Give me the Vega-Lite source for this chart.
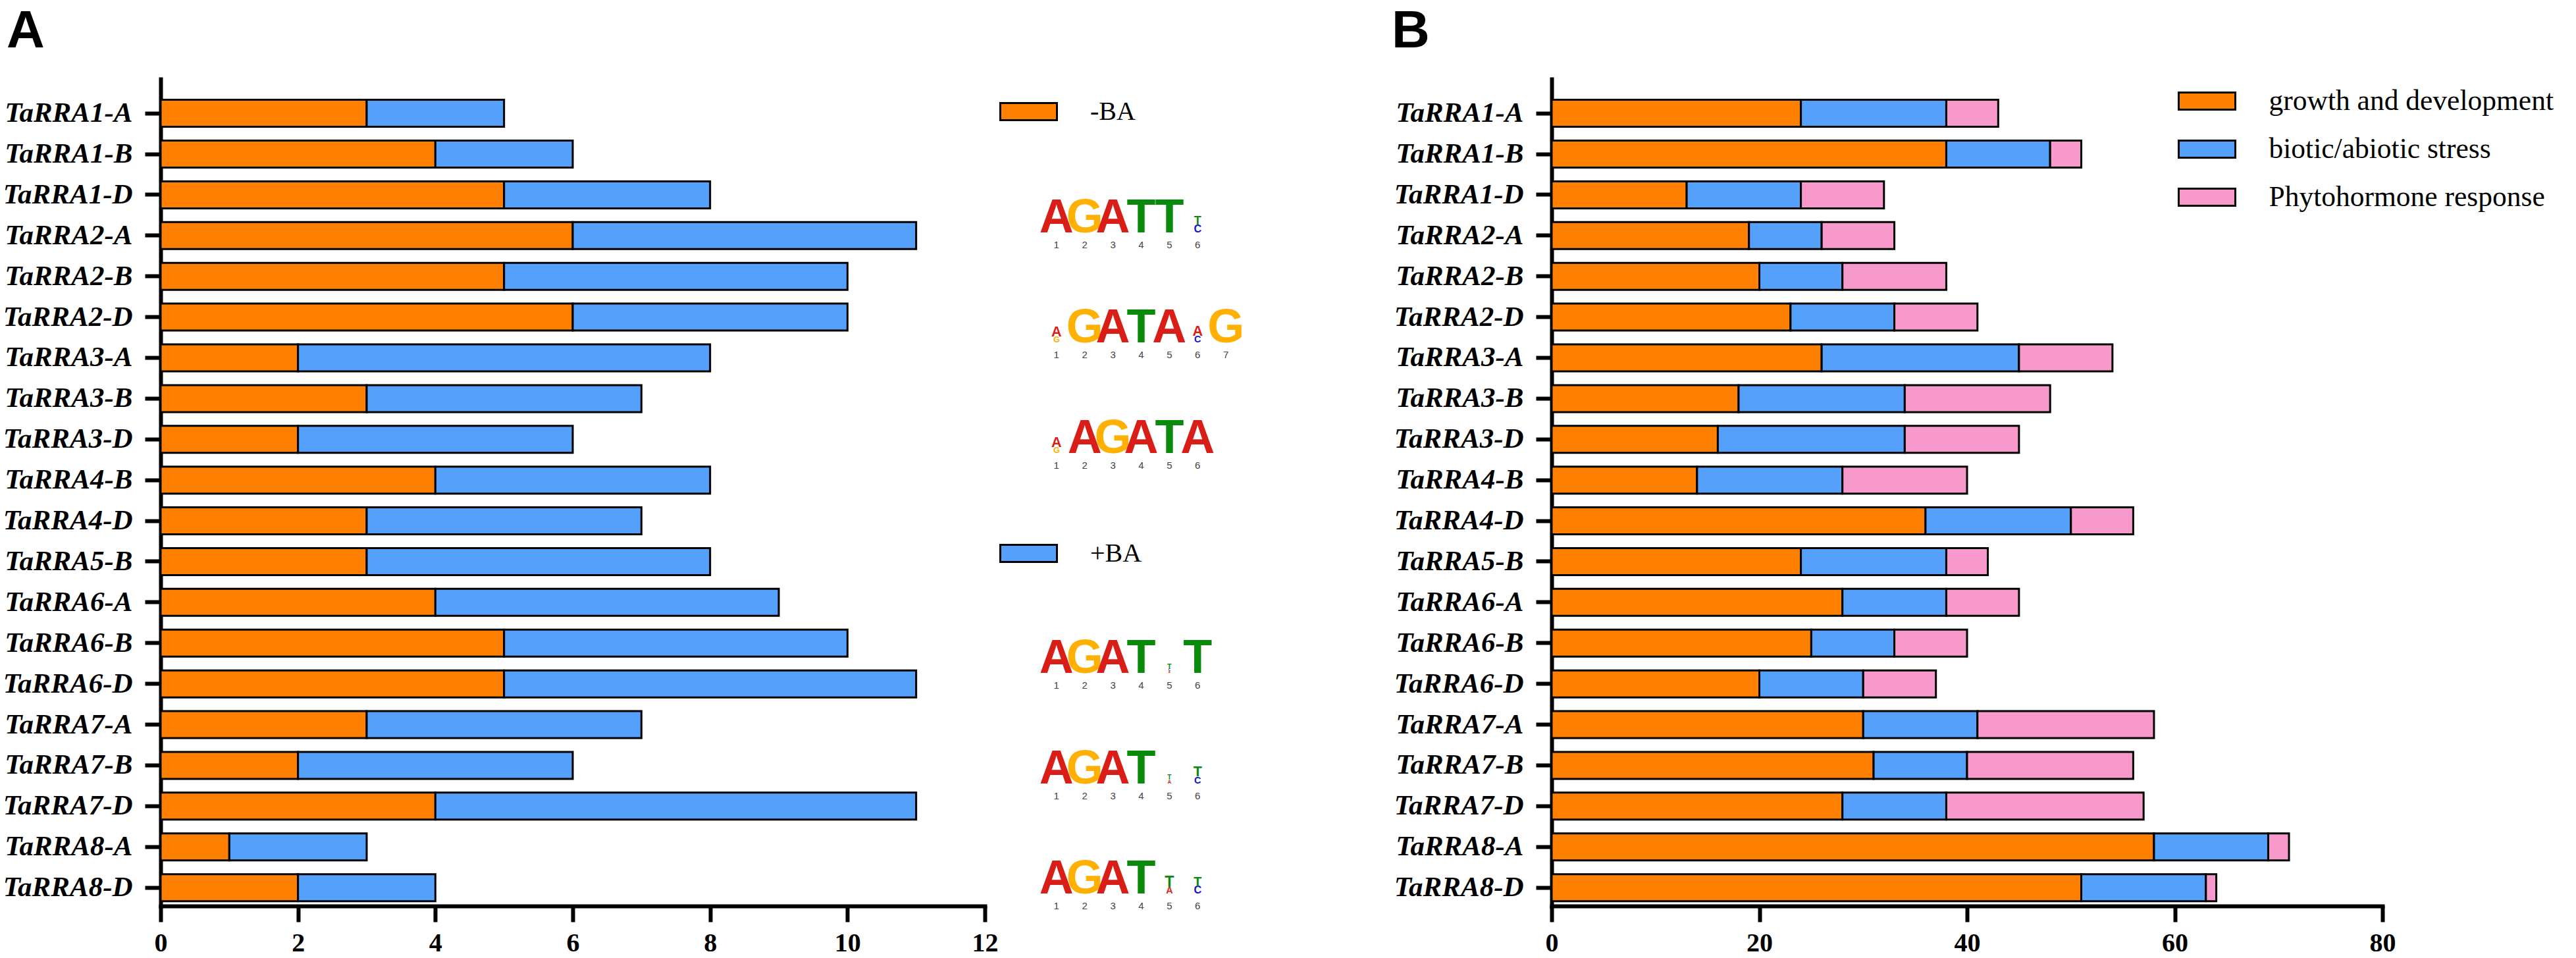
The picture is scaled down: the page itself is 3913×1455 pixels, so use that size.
{
  "$schema": "https://vega.github.io/schema/vega-lite/v6.json",
  "padding": {"left": 4, "top": 8, "right": 0, "bottom": 0},
  "background": "white",
  "datasets": {
    "panelA": [
      {"gene": "TaRRA1-A", "trt": "-BA", "n": 3}, {"gene": "TaRRA1-A", "trt": "+BA", "n": 2},
      {"gene": "TaRRA1-B", "trt": "-BA", "n": 4}, {"gene": "TaRRA1-B", "trt": "+BA", "n": 2},
      {"gene": "TaRRA1-D", "trt": "-BA", "n": 5}, {"gene": "TaRRA1-D", "trt": "+BA", "n": 3},
      {"gene": "TaRRA2-A", "trt": "-BA", "n": 6}, {"gene": "TaRRA2-A", "trt": "+BA", "n": 5},
      {"gene": "TaRRA2-B", "trt": "-BA", "n": 5}, {"gene": "TaRRA2-B", "trt": "+BA", "n": 5},
      {"gene": "TaRRA2-D", "trt": "-BA", "n": 6}, {"gene": "TaRRA2-D", "trt": "+BA", "n": 4},
      {"gene": "TaRRA3-A", "trt": "-BA", "n": 2}, {"gene": "TaRRA3-A", "trt": "+BA", "n": 6},
      {"gene": "TaRRA3-B", "trt": "-BA", "n": 3}, {"gene": "TaRRA3-B", "trt": "+BA", "n": 4},
      {"gene": "TaRRA3-D", "trt": "-BA", "n": 2}, {"gene": "TaRRA3-D", "trt": "+BA", "n": 4},
      {"gene": "TaRRA4-B", "trt": "-BA", "n": 4}, {"gene": "TaRRA4-B", "trt": "+BA", "n": 4},
      {"gene": "TaRRA4-D", "trt": "-BA", "n": 3}, {"gene": "TaRRA4-D", "trt": "+BA", "n": 4},
      {"gene": "TaRRA5-B", "trt": "-BA", "n": 3}, {"gene": "TaRRA5-B", "trt": "+BA", "n": 5},
      {"gene": "TaRRA6-A", "trt": "-BA", "n": 4}, {"gene": "TaRRA6-A", "trt": "+BA", "n": 5},
      {"gene": "TaRRA6-B", "trt": "-BA", "n": 5}, {"gene": "TaRRA6-B", "trt": "+BA", "n": 5},
      {"gene": "TaRRA6-D", "trt": "-BA", "n": 5}, {"gene": "TaRRA6-D", "trt": "+BA", "n": 6},
      {"gene": "TaRRA7-A", "trt": "-BA", "n": 3}, {"gene": "TaRRA7-A", "trt": "+BA", "n": 4},
      {"gene": "TaRRA7-B", "trt": "-BA", "n": 2}, {"gene": "TaRRA7-B", "trt": "+BA", "n": 4},
      {"gene": "TaRRA7-D", "trt": "-BA", "n": 4}, {"gene": "TaRRA7-D", "trt": "+BA", "n": 7},
      {"gene": "TaRRA8-A", "trt": "-BA", "n": 1}, {"gene": "TaRRA8-A", "trt": "+BA", "n": 2},
      {"gene": "TaRRA8-D", "trt": "-BA", "n": 2}, {"gene": "TaRRA8-D", "trt": "+BA", "n": 2}
    ],
    "panelB": [
      {"gene": "TaRRA1-A", "cat": "growth and development", "n": 24}, {"gene": "TaRRA1-A", "cat": "biotic/abiotic stress", "n": 14}, {"gene": "TaRRA1-A", "cat": "Phytohormone response", "n": 5},
      {"gene": "TaRRA1-B", "cat": "growth and development", "n": 38}, {"gene": "TaRRA1-B", "cat": "biotic/abiotic stress", "n": 10}, {"gene": "TaRRA1-B", "cat": "Phytohormone response", "n": 3},
      {"gene": "TaRRA1-D", "cat": "growth and development", "n": 13}, {"gene": "TaRRA1-D", "cat": "biotic/abiotic stress", "n": 11}, {"gene": "TaRRA1-D", "cat": "Phytohormone response", "n": 8},
      {"gene": "TaRRA2-A", "cat": "growth and development", "n": 19}, {"gene": "TaRRA2-A", "cat": "biotic/abiotic stress", "n": 7}, {"gene": "TaRRA2-A", "cat": "Phytohormone response", "n": 7},
      {"gene": "TaRRA2-B", "cat": "growth and development", "n": 20}, {"gene": "TaRRA2-B", "cat": "biotic/abiotic stress", "n": 8}, {"gene": "TaRRA2-B", "cat": "Phytohormone response", "n": 10},
      {"gene": "TaRRA2-D", "cat": "growth and development", "n": 23}, {"gene": "TaRRA2-D", "cat": "biotic/abiotic stress", "n": 10}, {"gene": "TaRRA2-D", "cat": "Phytohormone response", "n": 8},
      {"gene": "TaRRA3-A", "cat": "growth and development", "n": 26}, {"gene": "TaRRA3-A", "cat": "biotic/abiotic stress", "n": 19}, {"gene": "TaRRA3-A", "cat": "Phytohormone response", "n": 9},
      {"gene": "TaRRA3-B", "cat": "growth and development", "n": 18}, {"gene": "TaRRA3-B", "cat": "biotic/abiotic stress", "n": 16}, {"gene": "TaRRA3-B", "cat": "Phytohormone response", "n": 14},
      {"gene": "TaRRA3-D", "cat": "growth and development", "n": 16}, {"gene": "TaRRA3-D", "cat": "biotic/abiotic stress", "n": 18}, {"gene": "TaRRA3-D", "cat": "Phytohormone response", "n": 11},
      {"gene": "TaRRA4-B", "cat": "growth and development", "n": 14}, {"gene": "TaRRA4-B", "cat": "biotic/abiotic stress", "n": 14}, {"gene": "TaRRA4-B", "cat": "Phytohormone response", "n": 12},
      {"gene": "TaRRA4-D", "cat": "growth and development", "n": 36}, {"gene": "TaRRA4-D", "cat": "biotic/abiotic stress", "n": 14}, {"gene": "TaRRA4-D", "cat": "Phytohormone response", "n": 6},
      {"gene": "TaRRA5-B", "cat": "growth and development", "n": 24}, {"gene": "TaRRA5-B", "cat": "biotic/abiotic stress", "n": 14}, {"gene": "TaRRA5-B", "cat": "Phytohormone response", "n": 4},
      {"gene": "TaRRA6-A", "cat": "growth and development", "n": 28}, {"gene": "TaRRA6-A", "cat": "biotic/abiotic stress", "n": 10}, {"gene": "TaRRA6-A", "cat": "Phytohormone response", "n": 7},
      {"gene": "TaRRA6-B", "cat": "growth and development", "n": 25}, {"gene": "TaRRA6-B", "cat": "biotic/abiotic stress", "n": 8}, {"gene": "TaRRA6-B", "cat": "Phytohormone response", "n": 7},
      {"gene": "TaRRA6-D", "cat": "growth and development", "n": 20}, {"gene": "TaRRA6-D", "cat": "biotic/abiotic stress", "n": 10}, {"gene": "TaRRA6-D", "cat": "Phytohormone response", "n": 7},
      {"gene": "TaRRA7-A", "cat": "growth and development", "n": 30}, {"gene": "TaRRA7-A", "cat": "biotic/abiotic stress", "n": 11}, {"gene": "TaRRA7-A", "cat": "Phytohormone response", "n": 17},
      {"gene": "TaRRA7-B", "cat": "growth and development", "n": 31}, {"gene": "TaRRA7-B", "cat": "biotic/abiotic stress", "n": 9}, {"gene": "TaRRA7-B", "cat": "Phytohormone response", "n": 16},
      {"gene": "TaRRA7-D", "cat": "growth and development", "n": 28}, {"gene": "TaRRA7-D", "cat": "biotic/abiotic stress", "n": 10}, {"gene": "TaRRA7-D", "cat": "Phytohormone response", "n": 19},
      {"gene": "TaRRA8-A", "cat": "growth and development", "n": 58}, {"gene": "TaRRA8-A", "cat": "biotic/abiotic stress", "n": 11}, {"gene": "TaRRA8-A", "cat": "Phytohormone response", "n": 2},
      {"gene": "TaRRA8-D", "cat": "growth and development", "n": 51}, {"gene": "TaRRA8-D", "cat": "biotic/abiotic stress", "n": 12}, {"gene": "TaRRA8-D", "cat": "Phytohormone response", "n": 1}
    ],
    "letters": [
      {"row": 1, "pos": 1, "L": "A", "h": 2, "base": 0}, {"row": 1, "pos": 2, "L": "G", "h": 2, "base": 0},
      {"row": 1, "pos": 3, "L": "A", "h": 2, "base": 0}, {"row": 1, "pos": 4, "L": "T", "h": 2, "base": 0},
      {"row": 1, "pos": 5, "L": "T", "h": 2, "base": 0}, {"row": 1, "pos": 6, "L": "C", "h": 0.45, "base": 0},
      {"row": 1, "pos": 6, "L": "T", "h": 0.5, "base": 0.45},
      {"row": 2, "pos": 1, "L": "G", "h": 0.35, "base": 0}, {"row": 2, "pos": 1, "L": "A", "h": 0.6, "base": 0.35},
      {"row": 2, "pos": 2, "L": "G", "h": 2, "base": 0}, {"row": 2, "pos": 3, "L": "A", "h": 2, "base": 0},
      {"row": 2, "pos": 4, "L": "T", "h": 2, "base": 0}, {"row": 2, "pos": 5, "L": "A", "h": 2, "base": 0},
      {"row": 2, "pos": 6, "L": "C", "h": 0.4, "base": 0}, {"row": 2, "pos": 6, "L": "A", "h": 0.6, "base": 0.4},
      {"row": 2, "pos": 7, "L": "G", "h": 2, "base": 0},
      {"row": 3, "pos": 1, "L": "G", "h": 0.35, "base": 0}, {"row": 3, "pos": 1, "L": "A", "h": 0.6, "base": 0.35},
      {"row": 3, "pos": 2, "L": "A", "h": 2, "base": 0}, {"row": 3, "pos": 3, "L": "G", "h": 2, "base": 0},
      {"row": 3, "pos": 4, "L": "A", "h": 2, "base": 0}, {"row": 3, "pos": 5, "L": "T", "h": 2, "base": 0},
      {"row": 3, "pos": 6, "L": "A", "h": 2, "base": 0},
      {"row": 5, "pos": 1, "L": "A", "h": 2, "base": 0}, {"row": 5, "pos": 2, "L": "G", "h": 2, "base": 0},
      {"row": 5, "pos": 3, "L": "A", "h": 2, "base": 0}, {"row": 5, "pos": 4, "L": "T", "h": 2, "base": 0},
      {"row": 5, "pos": 5, "L": "A", "h": 0.12, "base": 0}, {"row": 5, "pos": 5, "L": "C", "h": 0.13, "base": 0.12},
      {"row": 5, "pos": 5, "L": "T", "h": 0.3, "base": 0.25}, {"row": 5, "pos": 6, "L": "T", "h": 2, "base": 0},
      {"row": 6, "pos": 1, "L": "A", "h": 2, "base": 0}, {"row": 6, "pos": 2, "L": "G", "h": 2, "base": 0},
      {"row": 6, "pos": 3, "L": "A", "h": 2, "base": 0}, {"row": 6, "pos": 4, "L": "T", "h": 2, "base": 0},
      {"row": 6, "pos": 5, "L": "A", "h": 0.22, "base": 0}, {"row": 6, "pos": 5, "L": "T", "h": 0.28, "base": 0.22},
      {"row": 6, "pos": 6, "L": "C", "h": 0.4, "base": 0}, {"row": 6, "pos": 6, "L": "T", "h": 0.6, "base": 0.4},
      {"row": 7, "pos": 1, "L": "A", "h": 2, "base": 0}, {"row": 7, "pos": 2, "L": "G", "h": 2, "base": 0},
      {"row": 7, "pos": 3, "L": "A", "h": 2, "base": 0}, {"row": 7, "pos": 4, "L": "T", "h": 2, "base": 0},
      {"row": 7, "pos": 5, "L": "A", "h": 0.4, "base": 0}, {"row": 7, "pos": 5, "L": "T", "h": 0.65, "base": 0.4},
      {"row": 7, "pos": 6, "L": "C", "h": 0.45, "base": 0}, {"row": 7, "pos": 6, "L": "T", "h": 0.55, "base": 0.45}
    ],
    "logoAxis": [
      {"row": 1, "v": 0}, {"row": 1, "v": 1}, {"row": 1, "v": 2},
      {"row": 2, "v": 0}, {"row": 2, "v": 1}, {"row": 2, "v": 2},
      {"row": 3, "v": 0}, {"row": 3, "v": 1}, {"row": 3, "v": 2},
      {"row": 5, "v": 0}, {"row": 5, "v": 1}, {"row": 5, "v": 2},
      {"row": 6, "v": 0}, {"row": 6, "v": 1}, {"row": 6, "v": 2},
      {"row": 7, "v": 0}, {"row": 7, "v": 1}, {"row": 7, "v": 2}
    ]
  },
  "bounds": "flush",
  "spacing": 23,
  "hconcat": [
    {
      "width": 1252,
      "height": 1256,
      "title": {"text": "A", "dx": -234},
      "data": {"name": "panelA"},
      "mark": {"type": "bar", "stroke": "black", "strokeWidth": 3, "height": 41},
      "encoding": {
        "y": {
          "field": "gene", "type": "nominal", "sort": null,
          "scale": {"type": "band", "paddingInner": 0.34, "paddingOuter": 0.316, "align": 0.81}
        },
        "x": {
          "field": "n", "type": "quantitative",
          "scale": {"domain": [0, 12], "nice": false},
          "axis": {"values": [0, 2, 4, 6, 8, 10, 12]}
        },
        "order": {"field": "trt", "sort": "descending"},
        "color": {
          "field": "trt", "type": "nominal",
          "scale": {"domain": ["-BA", "+BA"], "range": ["#FF8000", "#55A0FA"]},
          "legend": {
            "orient": "none", "legendX": 1295.5, "legendY": 26.5, "title": null,
            "rowPadding": 628, "labelFontSize": 40, "labelOffset": 70.5
          }
        }
      }
    },
    {
      "width": 815,
      "height": 1256,
      "encoding": {
        "x": {"field": "pos", "type": "quantitative", "scale": {"domain": [-1, 18], "nice": false, "zero": false}, "axis": null},
        "y": {"field": "row", "type": "ordinal", "scale": {"type": "point", "domain": [0, 1, 2, 3, 4, 5, 6, 7], "padding": 0.2515, "align": 0.777}, "axis": null}
      },
      "layer": [
        {
          "data": {"name": "letters"},
          "mark": {"type": "text", "font": "Liberation Sans", "fontWeight": "bold", "baseline": "alphabetic", "align": "center"},
          "encoding": {
            "yOffset": {"field": "base", "type": "quantitative", "scale": {"domain": [0, 2], "range": [0, -52]}},
            "size": {"field": "h", "type": "quantitative", "scale": {"domain": [0, 2], "range": [0, 72]}, "legend": null},
            "color": {"field": "L", "type": "nominal", "scale": {"domain": ["A", "C", "G", "T"], "range": ["#D91E18", "#1414C8", "#FFB000", "#0A8A0A"]}, "legend": null},
            "text": {"field": "L"}
          }
        },
        {
          "data": {"name": "letters"},
          "transform": [{"filter": "datum.base == 0"}],
          "mark": {"type": "text", "fontSize": 15, "font": "Liberation Sans", "color": "#444444", "baseline": "top", "dy": 12},
          "encoding": {"text": {"field": "pos"}}
        },
        {
          "data": {"name": "logoAxis"},
          "mark": {"type": "text", "fontSize": 16, "font": "Liberation Sans", "color": "#444444", "baseline": "middle", "align": "center"},
          "encoding": {
            "x": {"datum": 0, "type": "quantitative"},
            "yOffset": {"field": "v", "type": "quantitative", "scale": {"domain": [0, 2], "range": [0, -52]}},
            "text": {"field": "v", "type": "quantitative"}
          }
        },
        {
          "data": {"name": "logoAxis"},
          "mark": {"type": "tick", "orient": "horizontal", "size": 9, "thickness": 2, "color": "#444444"},
          "encoding": {
            "x": {"datum": 0.3, "type": "quantitative"},
            "yOffset": {"field": "v", "type": "quantitative", "scale": {"domain": [0, 2], "range": [0, -52]}}
          }
        },
        {
          "data": {"name": "logoAxis"},
          "transform": [{"filter": "datum.v == 1"}],
          "mark": {"type": "tick", "orient": "vertical", "size": 52, "thickness": 2, "color": "#444444"},
          "encoding": {
            "x": {"datum": 0.4, "type": "quantitative"},
            "yOffset": {"field": "v", "type": "quantitative", "scale": {"domain": [0, 2], "range": [0, -52]}}
          }
        },
        {
          "data": {"name": "logoAxis"},
          "transform": [{"filter": "datum.v == 1"}],
          "mark": {"type": "text", "text": "Bits", "fontSize": 14, "font": "Liberation Sans", "color": "#444444", "angle": 270, "baseline": "middle", "align": "center"},
          "encoding": {
            "x": {"datum": -0.55, "type": "quantitative"},
            "yOffset": {"field": "v", "type": "quantitative", "scale": {"domain": [0, 2], "range": [0, -52]}}
          }
        }
      ]
    },
    {
      "width": 1262,
      "height": 1256,
      "title": {"text": "B", "dx": -243},
      "data": {"name": "panelB"},
      "mark": {"type": "bar", "stroke": "black", "strokeWidth": 3, "height": 41},
      "encoding": {
        "y": {
          "field": "gene", "type": "nominal", "sort": null,
          "scale": {"type": "band", "paddingInner": 0.34, "paddingOuter": 0.316, "align": 0.81}
        },
        "x": {
          "field": "n", "type": "quantitative",
          "scale": {"domain": [0, 80], "nice": false},
          "axis": {"values": [0, 20, 40, 60, 80]}
        },
        "order": {"field": "cat", "sort": "descending"},
        "color": {
          "field": "cat", "type": "nominal",
          "scale": {
            "domain": ["growth and development", "biotic/abiotic stress", "Phytohormone response"],
            "range": ["#FF8000", "#55A0FA", "#F79ACB"]
          },
          "legend": {
            "orient": "none", "legendX": 972.5, "legendY": 10.5, "title": null,
            "rowPadding": 28, "labelFontSize": 43.5, "labelOffset": 71,
            "labelExpr": "datum.label == 'biotic/abiotic stress' ? '\u00a0' + datum.label : datum.label"
          }
        }
      }
    }
  ],
  "resolve": {"scale": {"color": "independent", "size": "independent"}, "legend": {"color": "independent"}},
  "config": {
    "view": {"stroke": null},
    "title": {
      "font": "Liberation Sans", "fontSize": 80, "fontWeight": "bold", "color": "black",
      "anchor": "start", "frame": "group", "baseline": "bottom", "offset": 31
    },
    "axis": {
      "title": null, "grid": false,
      "domainColor": "black", "domainWidth": 6, "domainCap": "square",
      "tickColor": "black", "tickWidth": 6, "tickSize": 24,
      "labelColor": "black", "labelFont": "Liberation Serif", "labelFontWeight": "bold", "labelLimit": 400
    },
    "axisY": {"labelFontSize": 43, "labelFontStyle": "italic", "labelPadding": 19},
    "axisX": {"labelFontSize": 40, "labelPadding": 12, "labelFlush": false},
    "legend": {
      "symbolType": "M-2,-0.6H2V0.6H-2Z", "symbolSize": 1849,
      "symbolStrokeColor": "black", "symbolStrokeWidth": 3, "symbolOpacity": 1,
      "labelFont": "Liberation Serif", "labelColor": "black", "labelLimit": 1000,
      "padding": 0
    }
  }
}
